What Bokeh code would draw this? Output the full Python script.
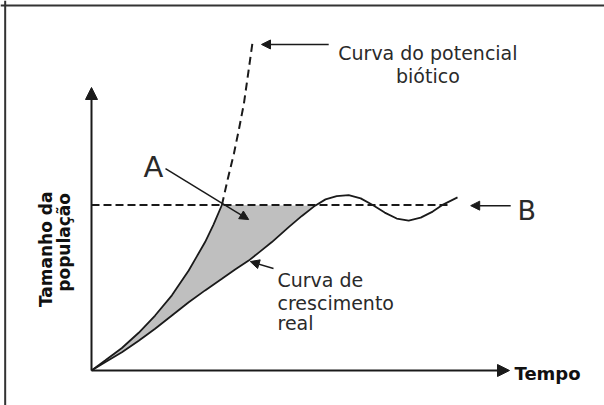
import math
from bokeh.plotting import figure
from bokeh.models import Range1d, Arrow, NormalHead, Label, Span
from bokeh.embed import file_html
from bokeh.resources import INLINE

# ---- data (time t, population N) ----
# real growth curve (logistic with oscillation around K)
real_t = [0, 0.34, 0.76, 1.18, 1.59, 2.01, 2.43, 2.84, 3.26, 3.59, 3.93, 4.22, 4.51,
          4.93, 5.26, 5.59, 5.85, 6.13, 6.43, 6.73, 7.03, 7.33, 7.63, 7.93, 8.23,
          8.53, 8.80, 9.15]
real_n = [0, 0.25, 0.55, 0.90, 1.26, 1.66, 2.06, 2.42, 2.77, 3.05, 3.32, 3.60, 3.88,
          4.33, 4.67, 4.98, 5.17, 5.27, 5.30, 5.20, 5.00, 4.77, 4.59, 4.53, 4.62,
          4.80, 5.02, 5.23]
# biotic potential curve: solid part below K
biotic_t = [0, 0.34, 0.76, 1.18, 1.59, 2.01, 2.43, 2.63, 2.84, 3.05, 3.26]
biotic_n = [0, 0.30, 0.68, 1.14, 1.66, 2.27, 3.02, 3.44, 3.88, 4.41, 5.00]
# biotic potential curve: dashed part above K
biotic_dash_t = [3.26, 3.41, 3.56, 3.69, 3.81, 3.92, 4.03]
biotic_dash_n = [5.00, 5.80, 6.55, 7.31, 8.06, 9.00, 9.95]
# carrying capacity K
K = 5.0
K_t = [0, 8.98]
# axes extents
t_max = 10.45
n_max = 8.55
# environmental resistance area: right end on K
fill_end_t = 5.59

INK = "#1a1a1a"
FONT = "DejaVu Sans"

W, H = 604, 405
p = figure(width=W, height=H, output_backend="svg", toolbar_location=None,
           x_axis_location=None, y_axis_location=None, min_border=0,
           x_range=Range1d(-2.275, -2.275 + W / 40.0),
           y_range=Range1d(11.178 - H / 33.1, 11.178))
p.grid.visible = False
p.outline_line_color = None
p.background_fill_color = "white"
p.border_fill_color = "white"

# frame (top and left border visible in reference)
p.add_layout(Span(location=11.027, dimension="width", line_color="#333333", line_width=2))
p.add_layout(Span(location=-2.158, dimension="height", line_color="#333333", line_width=2))

# shaded region between biotic potential and real growth
low = [(t, n) for t, n in zip(real_t, real_n) if t <= fill_end_t]
fill_x = biotic_t + [t for t, n in reversed(low)]
fill_y = biotic_n + [n for t, n in reversed(low)]
p.patch(fill_x, fill_y, fill_color="#bfbfbf", line_color=None)

# K line
p.line(K_t, [K, K], line_color=INK, line_width=2, line_dash="8 4")
# curves
p.line(biotic_t, biotic_n, line_color=INK, line_width=1.8)
p.line(biotic_dash_t, biotic_dash_n, line_color=INK, line_width=2, line_dash="8 5")
p.line(real_t, real_n, line_color=INK, line_width=1.8)

# axes with arrow heads
p.add_layout(Arrow(x_start=0, y_start=0, x_end=t_max, y_end=0, line_width=2,
                   line_color=INK, end=NormalHead(size=12, fill_color=INK, line_color=INK)))
p.add_layout(Arrow(x_start=0, y_start=0, x_end=0, y_end=n_max, line_width=2,
                   line_color=INK, end=NormalHead(size=12, fill_color=INK, line_color=INK)))

# pointer arrows
def pointer(x0, y0, x1, y1, size=9):
    p.add_layout(Arrow(x_start=x0, y_start=y0, x_end=x1, y_end=y1, line_width=1.5,
                       line_color=INK, end=NormalHead(size=size, fill_color=INK, line_color=INK)))

pointer(5.93, 9.85, 4.25, 9.85)
pointer(1.85, 6.10, 3.93, 4.56)
pointer(4.55, 3.08, 3.97, 3.29)
pointer(10.48, 4.98, 9.48, 4.98)

def label(x, y, text, size, bold=False, align="left", angle=0.0, color="#2a2a2a"):
    p.add_layout(Label(x=x, y=y, text=text, text_font=FONT, text_font_size=f"{size}px",
                       text_font_style="bold" if bold else "normal", text_align=align,
                       text_baseline="alphabetic", angle=angle, text_color=color))

label(8.41, 9.58, "Curva do potencial", 19, align="center")
label(8.41, 8.91, "biótico", 19, align="center")
label(1.30, 6.16, "A", 29)
label(10.65, 4.83, "B", 27)
label(4.65, 2.72, "Curva de", 19)
label(4.65, 2.05, "crescimento", 19)
label(4.65, 1.42, "real", 19)
label(10.575, -0.08, "Tempo", 18, bold=True, color="#111111")
label(-1.15, 3.66, "Tamanho da", 17, bold=True, align="center", angle=math.pi / 2, color="#111111")
label(-0.69, 3.87, "população", 17, bold=True, align="center", angle=math.pi / 2, color="#111111")

open("out.html", "w").write(file_html(p, INLINE))
